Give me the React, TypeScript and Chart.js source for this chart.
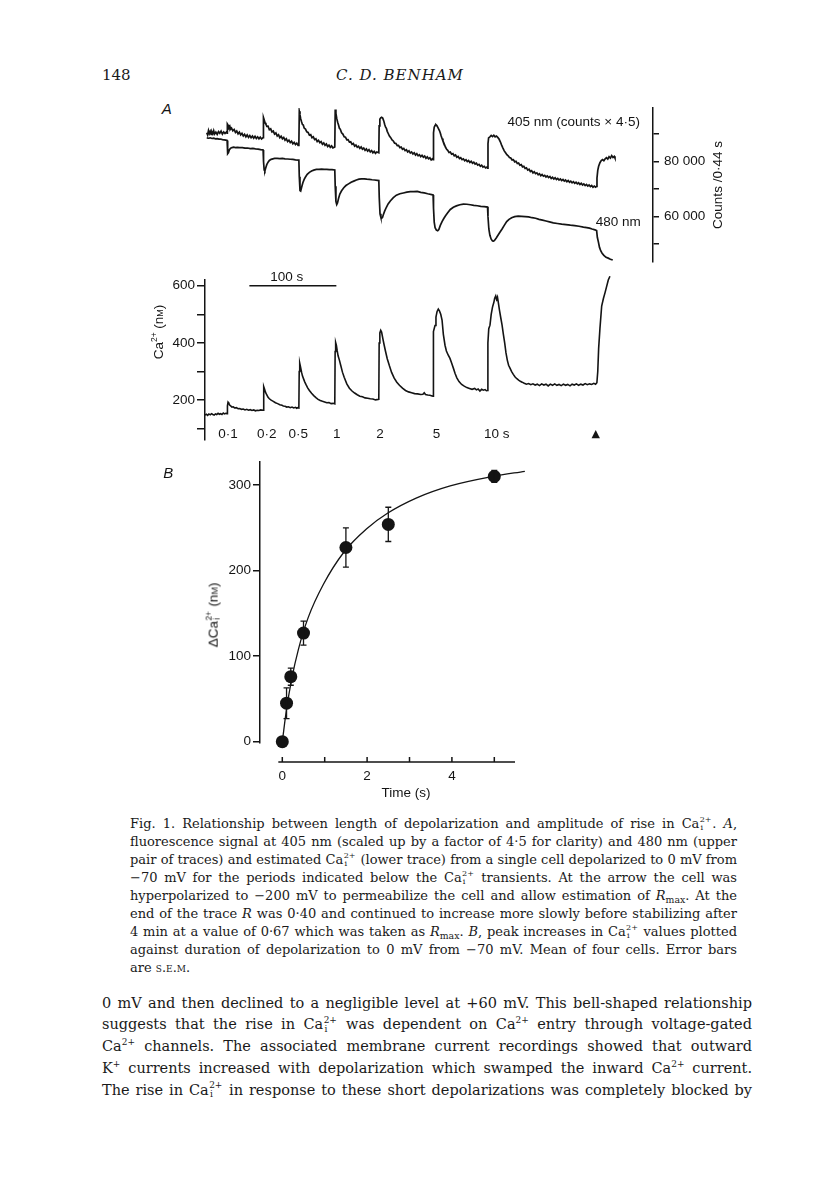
import React, { useEffect, useRef } from "react";
import { Chart, registerables } from "chart.js";
Chart.register(...registerables);

const SANS = '"Liberation Sans", Arial, Helvetica, sans-serif';
const SERIF = '"DejaVu Serif", "Liberation Serif", serif';
const INK = "#141414";

// ---------------- Panel A data (time in s) ----------------
const TIME_MIN = 0;
const TIME_MAX = 515;

// 405 nm fluorescence (counts x 4.5)
const t405 = [
  2, 3, 4, 5, 6, 7, 8, 9, 10, 11, 12.5, 14, 15.5, 17, 18.5, 20, 21.5, 23, 24.5, 25.4,
  25.7, 26.5, 27.5, 28.5, 29.5, 30.5, 32, 33.5, 35, 36.5, 38, 39.5, 41, 42.5, 44, 45.5, 47, 48.5, 50, 51.5, 53, 54.5, 56, 57.5, 59, 60.5, 62, 63.5, 65, 66.7,
  67.2, 68, 69, 70, 71, 72.5, 74, 75.5, 77, 78.5, 80, 81.5, 83, 84.5, 86, 87.5, 89, 90.5, 92, 93.5, 95, 96.5, 98, 99.5, 101, 102.5, 104, 105.5, 107, 107.9,
  108.4, 109.2, 110, 111, 112, 113, 114, 115.5, 117, 118.5, 120, 121.5, 123, 124.5, 126, 127.5, 129, 130.5, 132, 133.5, 135, 136.5, 138, 139.5, 141, 142.5, 144, 145.5, 147, 149.2,
  149.7, 150.5, 151.5, 152.5, 153.5, 154.5, 155.5, 157, 158.5, 160, 161.5, 163, 164.5, 166, 167.5, 169, 170.5, 172, 173.5, 175, 176.5, 178, 179.5, 181, 182.5, 184, 185.5, 187, 188.5, 190, 191.5, 193, 194.5, 196, 197.5, 199.8,
  200.2, 201, 202, 203, 204.3, 205.5, 206.5, 207.5, 208.5, 209.5, 210.5, 212, 213.5, 215, 216.5, 218, 219.5, 221, 222.5, 224, 225.5, 227, 228.5, 230, 231.5, 233, 234.5, 236, 237.5, 239, 240.5, 242, 243.5, 245, 246.5, 248, 249.5, 251, 252.5, 254, 255.5, 257, 258.5, 260, 261.5, 262.2,
  262.7, 263.5, 264.5, 265.5, 266.5, 267.5, 268.5, 269.5, 270.5, 271.5, 272.5, 273.5, 274.5, 275.5, 276.5, 277.8, 279, 280.5, 282, 283.5, 285, 286.5, 288, 289.5, 291, 292.5, 294, 295.5, 297, 298.5, 300, 301.5, 303, 304.5, 306, 307.5, 309, 310.5, 312, 313.5, 315, 316.5, 318, 319.5, 321, 322.5, 324, 324.8,
  325.3, 326, 327.5, 329, 330.5, 332, 333.5, 335, 336.5, 338, 339.5, 341, 342.5, 344, 345.5, 347, 348.5, 350, 351.5, 353, 354.5, 356, 357.5, 359, 360.5, 362, 363.5, 365, 366.5, 368, 369.5, 371, 372.5, 374, 375.5, 377, 378.5, 380, 381.5, 383, 384.5, 386, 387.5, 389, 390.5, 392, 393.5, 395, 396.5, 398, 399.5, 401, 402.5, 404, 405.5, 407, 408.5, 410, 411.5, 413, 414.5, 416, 417.5, 419, 420.5, 422, 423.5, 425, 426.5, 428, 429.5, 431, 432.5, 434, 435.5, 437, 438.5, 440, 441.5, 443, 444.5, 446, 447.5, 449, 450.2,
  450.6, 451.5, 452.5, 454, 455.5, 457, 458.5, 460, 461.5, 463, 464.5, 466, 467.5, 469, 470.5, 471.3,
];
const v405 = [
  90500, 89700, 91300, 90200, 91000, 89900, 90800, 90100, 91200, 90000, 90700, 89900, 90900, 90300, 91100, 90000, 90800, 90200, 90700, 90300,
  93700, 93300, 92400, 92900, 91800, 92200, 91200, 91700, 90600, 91100, 90100, 90700, 89700, 90300, 89300, 89900, 89000, 89700, 88800, 89500, 88700, 89300, 88500, 89200, 88400, 89000, 88300, 88900, 88200, 88700,
  96000, 95200, 94100, 93600, 92800, 92900, 91600, 91900, 90800, 91100, 90000, 90400, 89300, 89800, 88700, 89200, 88300, 88800, 87800, 88300, 87300, 87800, 86900, 87400, 86500, 87000, 86200, 86700, 85900, 86300,
  98300, 97000, 95600, 94500, 93500, 93300, 92200, 91800, 90800, 90600, 89600, 89800, 88700, 89000, 88000, 88300, 87300, 87700, 86900, 87300, 86300, 86800, 85900, 86400, 85500, 86000, 85200, 85700, 85000, 85300,
  98900, 97500, 95600, 94300, 93300, 92100, 91800, 90500, 90000, 89000, 88900, 87900, 88000, 87100, 87200, 86300, 86600, 85600, 86000, 85200, 85600, 84800, 85300, 84500, 84900, 84100, 84600, 83800, 84300, 83500, 84000, 83200, 83700, 83000, 83500, 83200,
  93000, 95400, 95900, 96100, 95800, 94800, 93600, 92600, 92100, 91000, 90300, 89300, 88700, 87900, 87500, 86700, 86600, 85800, 85900, 85100, 85300, 84500, 84800, 84000, 84300, 83500, 83900, 83100, 83500, 82800, 83200, 82400, 82900, 82100, 82500, 81800, 82300, 81600, 82000, 81200, 81700, 81000, 81400, 80600, 81000, 80700,
  90500, 92500, 93200, 93400, 93100, 92500, 91900, 91300, 90400, 89300, 88400, 87500, 86800, 86000, 85200, 84500, 84100, 83300, 83500, 82700, 82900, 82100, 82400, 81600, 81900, 81100, 81400, 80700, 81000, 80300, 80700, 80000, 80400, 79700, 80100, 79400, 79800, 79100, 79400, 78700, 79000, 78300, 78700, 78000, 78300, 77700, 78000, 77600,
  86500, 88600, 89000, 89500, 89100, 89600, 89000, 89300, 88800, 88200, 87200, 86000, 84900, 83900, 83200, 82500, 82100, 81500, 81300, 80600, 80700, 79900, 80100, 79300, 79500, 78700, 78900, 78100, 78300, 77500, 77700, 76900, 77200, 76400, 76700, 75900, 76300, 75600, 75900, 75200, 75600, 74900, 75300, 74700, 75000, 74400, 74800, 74200, 74600, 73900, 74300, 73700, 74100, 73500, 73900, 73300, 73700, 73100, 73500, 72900, 73300, 72700, 73100, 72500, 72900, 72300, 72700, 72100, 72500, 71900, 72300, 71700, 72100, 71500, 71900, 71300, 71700, 71100, 71500, 70900, 71300, 70700, 71100, 70700, 71000,
  74000, 76800, 78300, 79600, 80400, 80700, 80300, 81000, 81400, 80900, 81800, 81300, 82200, 81500, 81900, 81300,
];

// 480 nm fluorescence (counts)
const t480 = [
  2, 4, 6, 8, 10, 12, 14, 16, 18, 20, 22, 24, 25.4,
  25.8, 26.3, 27, 28, 29.5, 31, 33, 35, 37, 40, 43, 46, 49, 52, 55, 58, 61, 64, 66.8,
  67.3, 68, 68.8, 69.7, 71, 72.5, 74, 76, 78, 80, 83, 86, 89, 92, 95, 98, 101, 104, 107.9,
  108.4, 109.2, 110, 111, 112.5, 114, 115.5, 117.5, 120, 122.5, 125, 128, 131, 134, 137, 140, 143, 146, 149.2,
  149.7, 150.5, 151.4, 152.3, 153.5, 155, 157, 159.5, 162, 165, 168, 171, 174, 177, 180, 183, 186, 189, 192, 195, 199.8,
  200.3, 201.2, 202.2, 203.1, 204, 205, 206.5, 208.5, 210.5, 213, 216.5, 220, 224, 228, 232, 236, 240, 244, 248, 252, 256, 260.6, 262.2,
  262.7, 263.5, 264.5, 266, 267.5, 268.8, 270.5, 272.5, 274.5, 276.5, 279, 282, 285.5, 289, 293, 297, 301, 305, 309, 313, 317, 321, 324.8,
  325.3, 326.3, 327.5, 329, 330.5, 331.8, 333, 335, 337, 339, 341.5, 344, 346.8, 349.5, 352.5, 356, 360, 364, 368, 372, 376, 380, 384, 388, 392, 396, 400.4, 405, 410, 415, 420, 425, 430, 435, 438.8, 442, 445, 448.3, 450.2,
  451, 452.2, 453.5, 455, 456.5, 458.5, 461, 463.5, 466, 468.7,
];
const v480 = [
  88600, 88500, 88650, 88400, 88500, 88300, 88350, 88150, 88200, 88000, 87900, 87800, 87700,
  84500, 82900, 83300, 84300, 84900, 85100, 85250, 85100, 85200, 85050, 85100, 84900, 84950, 84750, 84800, 84600, 84550, 84350, 84250,
  80000, 77000, 76600, 77600, 78900, 79800, 80400, 80800, 81000, 81150, 81200, 81100, 81150, 81000, 80950, 80850, 80800, 80650, 80550,
  74500, 69500, 69300, 70600, 72300, 73500, 74400, 75400, 76100, 76600, 76900, 77150, 77200, 77250, 77150, 77200, 77050, 77100, 76950,
  71000, 65500, 64400, 65000, 66600, 68200, 69400, 70500, 71300, 71900, 72500, 72900, 73300, 73600, 73700, 73750, 73600, 73550, 73400, 73300, 73100,
  67000, 61000, 59700, 59450, 59700, 60700, 62000, 63400, 64600, 65700, 66900, 67800, 68300, 68600, 68900, 69100, 69100, 69150, 68800, 68600, 68300, 68000, 67900,
  63000, 58000, 56000, 55100, 54850, 55300, 56800, 58200, 59300, 60300, 61400, 62600, 63400, 63900, 64300, 64550, 64500, 64300, 64100, 63950, 63750, 63600, 63450,
  60000, 55500, 53200, 51800, 51150, 51100, 51400, 52300, 53300, 54300, 55500, 56800, 58200, 59000, 59600, 60000, 60150, 60100, 60000, 59900, 59600, 59400, 59000, 58700, 58400, 58100, 57750, 57500, 57250, 57100, 56900, 56750, 56500, 56200, 56000, 55800, 55500, 55200, 54900,
  52500, 50800, 48800, 47500, 46700, 45900, 45200, 44900, 44500, 44200,
];

// estimated Ca2+ (nM)
const tCa = [
  0, 1.5, 3, 4.5, 6, 7.5, 9, 10.5, 12, 13.5, 15, 16.5, 18, 19.5, 21, 22.5, 24, 25.4,
  25.8, 26.5, 27.3, 28.3, 29.5, 31, 32.5, 34, 36, 38, 40, 42, 44, 46, 48, 50, 52, 54, 56, 58, 60, 62, 64, 66.8,
  67.2, 67.8, 68.5, 69.5, 70.9, 72.5, 74, 76, 78.5, 81, 83.5, 86, 88.5, 90, 92, 94, 96, 98, 100, 102, 104, 105.4, 106.8, 107.9,
  108.3, 108.9, 109.8, 111, 112, 113, 114.5, 116, 118, 120, 122.5, 125, 127.5, 130, 132.5, 135, 137.5, 140, 142.5, 145, 147.5, 149.2,
  149.6, 150.2, 151, 152, 153, 154.5, 156, 158, 160, 163, 166, 169, 172, 175, 178, 181, 184, 187, 190, 193, 196, 199.8,
  200.2, 201, 202, 203, 204.5, 206, 207.5, 209.5, 212, 214.5, 217.5, 220.5, 223.5, 227, 230.5, 234, 237.5, 241, 244.5, 248, 250.5, 252, 253.5, 256, 258.5, 261, 262.2,
  262.6, 264.4, 265.5, 266.8, 268.2, 269.5, 271, 272.5, 274, 275.9, 277.5, 279.5, 281.6, 283.5, 285.5, 287.5, 289.5, 292, 295, 298, 301, 304, 307, 310, 312, 314, 316, 318, 320, 322, 323.5, 324.8,
  325.2, 326.2, 327.6, 329, 330.5, 332, 333, 334.2, 335.2, 336.2, 337.2, 338.5, 340, 341.5, 343, 344.5, 346, 347.5, 349, 350.6, 352.5, 354.4, 356.5, 358.5, 360.5, 362.5, 364.5, 367, 369.5, 372, 374.5, 377, 379.5, 382, 384.5, 387, 389.5, 392, 394.5, 397, 399.5, 402, 404.5, 407, 409.5, 412, 414.5, 417, 419.6, 422, 424.5, 427, 429.5, 432, 434.5, 437, 439.5, 442, 444.5, 447, 449, 450.5,
  451.5, 452.5, 454, 456, 458, 459.8, 461.5, 463.6, 465.5,
];
const vCa = [
  148, 151, 147, 152, 149, 153, 150, 148, 152, 150, 154, 151, 153, 150, 155, 152, 154, 153,
  180, 193, 190, 183, 180, 176, 177, 173, 174, 170, 171, 168, 169, 166, 168, 165, 167, 164, 166, 163, 165, 164, 166, 165,
  225, 247, 238, 228, 219, 210, 205, 200, 196, 191, 188, 184, 182, 180, 179, 176, 177, 174, 176, 173, 175, 172, 174, 173,
  300, 329, 316, 298, 285, 277, 265, 255, 243, 234, 224, 216, 209, 203, 199, 196, 194, 191, 192, 188, 189, 187,
  370, 401, 392, 372, 355, 340, 322, 298, 280, 257, 242, 232, 225, 219, 214, 212, 208, 207, 205, 204, 201, 203,
  400, 435, 444, 438, 414, 392, 371, 345, 320, 297, 277, 263, 252, 242, 234, 229, 226, 223, 222, 220, 221, 226, 220, 218, 217, 215, 214,
  440, 461, 490, 510, 518, 512, 500, 480, 430, 392, 372, 358, 346, 330, 312, 293, 278, 265, 255, 249, 244, 241, 238, 241, 236, 239, 232, 238, 235, 237, 233, 234,
  400, 450, 462, 500, 525, 541, 556, 564, 552, 560, 541, 515, 488, 462, 430, 400, 365, 340, 322, 312, 300, 290, 281, 275, 270, 266, 263, 259, 256, 258, 254, 257, 253, 256, 251, 257, 253, 256, 250, 256, 252, 257, 252, 255, 251, 256, 252, 255, 250, 256, 253, 257, 252, 256, 253, 258, 254, 257, 255, 259, 256, 261,
  300, 380, 450, 529, 555, 575, 595, 620, 633,
];

const COUNT_MIN = 43534;
const COUNT_MAX = 99451;
const countTicks = [50000, 60000, 70000, 80000, 90000];
const countTickLabels = ["", "60 000", "", "80 000", ""];

const CA_MIN = 61.3;
const CA_MAX = 619.5;
const caTicks = [100, 200, 300, 400, 500, 600];
const caTickLabels = ["", "200", "", "400", "", "600"];

const scaleBarT = [51, 151];
const scaleBarY = 600;
const scaleBarLabel = "100 s";
const scaleBarLabelT = 94;

const pulseLabels = ["0·1", "0·2", "0·5", "1", "2", "5", "10 s", "▲"];
const pulseLabelT = [26.4, 70.9, 107.3, 151.4, 201.2, 266.1, 335.3, 449.3];

// ---------------- Panel B data ----------------
const durations = [0, 0.1, 0.2, 0.5, 1.5, 2.5, 5];
const deltaCa = [0, 45, 76, 127, 227, 254, 310];
const deltaCaSem = [0, 18, 10, 14, 23, 20, 7];
const fitT = [0, 0.1, 0.22, 0.38, 0.61, 0.97, 1.46, 1.99, 2.48, 3.17, 3.96, 4.96, 5.72];
const fitV = [0, 38, 73, 108, 145, 184, 222, 249, 267, 285, 299, 310, 316];
const B_X_MIN = -0.526;
const B_X_MAX = 5.488;
const bAxisRange = [-0.094, 5.488];
const bXMinorTicks = [0, 1, 2, 3, 4, 5];
const bXTicks = [0, 2, 4];
const B_Y_MIN = -1.5;
const B_Y_MAX = 326.9;
const bYTicks = [0, 100, 200, 300];

const pts = (ts: number[], vs: number[]) => ts.map((t, i) => ({ x: t, y: vs[i] }));
const tickFont = { family: SANS, size: 13.5 };

const pulseLabelPlugin = {
  id: "pulseLabels",
  afterDraw(chart: any) {
    const { ctx, chartArea, scales } = chart;
    const x = scales.x, y = scales.y;
    ctx.save();
    ctx.fillStyle = INK;
    ctx.textAlign = "center";
    ctx.textBaseline = "middle";
    pulseLabels.forEach((lab, i) => {
      ctx.font = lab === "▲" ? `11px "DejaVu Sans", ${SANS}` : `13.5px ${SANS}`;
      ctx.fillText(lab, x.getPixelForValue(pulseLabelT[i]), chartArea.bottom - 6);
    });
    ctx.font = `13.5px ${SANS}`;
    ctx.fillText(scaleBarLabel, x.getPixelForValue(scaleBarLabelT), y.getPixelForValue(scaleBarY) - 8);
    ctx.restore();
  },
};

const errorBarPlugin = {
  id: "errorBars",
  afterDatasetsDraw(chart: any) {
    const { ctx, scales } = chart;
    const x = scales.x, y = scales.y;
    ctx.save();
    ctx.strokeStyle = INK;
    ctx.lineWidth = 1.3;
    ctx.beginPath();
    durations.forEach((t, i) => {
      const s = deltaCaSem[i];
      if (!s) return;
      const px = x.getPixelForValue(t);
      const y1 = y.getPixelForValue(deltaCa[i] - s);
      const y2 = y.getPixelForValue(deltaCa[i] + s);
      ctx.moveTo(px, y1); ctx.lineTo(px, y2);
      ctx.moveTo(px - 3, y1); ctx.lineTo(px + 3, y1);
      ctx.moveTo(px - 3, y2); ctx.lineTo(px + 3, y2);
    });
    ctx.stroke();
    ctx.restore();
  },
};

const bAxisPlugin = {
  id: "bAxis",
  afterDraw(chart: any) {
    const { ctx, chartArea, scales } = chart;
    const x = scales.x;
    const yLine = chartArea.bottom + 19;
    ctx.save();
    ctx.strokeStyle = INK;
    ctx.lineWidth = 1.5;
    ctx.beginPath();
    ctx.moveTo(x.getPixelForValue(bAxisRange[0]), yLine);
    ctx.lineTo(x.getPixelForValue(bAxisRange[1]), yLine);
    bXMinorTicks.forEach((v) => {
      const px = x.getPixelForValue(v);
      ctx.moveTo(px, yLine);
      ctx.lineTo(px, yLine - 5);
    });
    ctx.stroke();
    ctx.restore();
  },
};

const baseOpts = {
  responsive: false,
  animation: false,
  devicePixelRatio: 1,
  plugins: { legend: { display: false }, tooltip: { enabled: false }, title: { display: false } },
};

const upperConfig = () => ({
  type: "line",
  data: {
    datasets: [
      { data: pts(t405, v405), borderColor: INK, borderWidth: 1.7, pointRadius: 0, tension: 0 },
      { data: pts(t480, v480), borderColor: INK, borderWidth: 1.7, pointRadius: 0, tension: 0 },
    ],
  },
  options: {
    ...baseOpts,
    layout: { padding: { top: 10, bottom: 7, left: 0, right: 0 } },
    scales: {
      x: { type: "linear", display: false, min: TIME_MIN, max: TIME_MAX },
      y: {
        type: "linear", position: "right", min: COUNT_MIN, max: COUNT_MAX,
        afterFit: (s: any) => { s.width = 92; },
        afterBuildTicks: (s: any) => { s.ticks = countTicks.map((v) => ({ value: v })); },
        border: { display: true, color: INK, width: 1.5 },
        grid: { drawOnChartArea: false, tickLength: 6, color: INK, lineWidth: 1.5 },
        ticks: { callback: (v: number) => countTickLabels[countTicks.indexOf(v)] ?? "", padding: 5, color: INK, font: tickFont },
      },
    },
  },
});

const lowerConfig = () => ({
  type: "line",
  data: {
    datasets: [
      { data: pts(tCa, vCa), borderColor: INK, borderWidth: 1.6, pointRadius: 0, tension: 0, clip: false },
      { data: pts(scaleBarT, [scaleBarY, scaleBarY]), borderColor: INK, borderWidth: 1.6, pointRadius: 0, clip: false },
    ],
  },
  options: {
    ...baseOpts,
    layout: { padding: { top: 7, bottom: 10, left: 0, right: 7 } },
    scales: {
      x: { type: "linear", display: false, min: TIME_MIN, max: TIME_MAX },
      y: {
        type: "linear", position: "left", min: CA_MIN, max: CA_MAX,
        afterFit: (s: any) => { s.width = 65; },
        afterBuildTicks: (s: any) => { s.ticks = caTicks.map((v) => ({ value: v })); },
        border: { display: true, color: INK, width: 1.5 },
        grid: { drawOnChartArea: false, tickLength: 8, color: INK, lineWidth: 1.5 },
        ticks: { callback: (v: number) => caTickLabels[caTicks.indexOf(v)] ?? "", padding: 2, color: INK, font: tickFont },
      },
    },
  },
  plugins: [pulseLabelPlugin],
});

const panelBConfig = () => ({
  type: "line",
  data: {
    datasets: [
      { data: pts(durations, deltaCa), showLine: false, pointRadius: 6.5, pointBackgroundColor: INK, pointBorderWidth: 0, pointBorderColor: INK, clip: false },
      { data: pts(fitT, fitV), borderColor: INK, borderWidth: 1.3, pointRadius: 0, cubicInterpolationMode: "monotone", clip: false },
    ],
  },
  options: {
    ...baseOpts,
    layout: { padding: { top: 12, bottom: 0, left: 0, right: 25 } },
    scales: {
      x: {
        type: "linear", min: B_X_MIN, max: B_X_MAX,
        afterFit: (s: any) => { s.height = 57; },
        afterBuildTicks: (s: any) => { s.ticks = bXTicks.map((v) => ({ value: v })); },
        border: { display: false },
        grid: { display: false, drawTicks: false },
        ticks: { padding: 25, color: INK, font: tickFont, maxRotation: 0 },
      },
      y: {
        type: "linear", position: "left", min: B_Y_MIN, max: B_Y_MAX,
        afterFit: (s: any) => { s.width = 100; },
        afterBuildTicks: (s: any) => { s.ticks = bYTicks.map((v) => ({ value: v })); },
        border: { display: true, color: INK, width: 1.5 },
        grid: { drawOnChartArea: false, tickLength: 7, color: INK, lineWidth: 1.5 },
        ticks: { padding: 2, color: INK, font: tickFont },
      },
    },
  },
  plugins: [errorBarPlugin, bAxisPlugin],
});

function ChartBox({ left, top, width, height, make }: any) {
  const ref = useRef<HTMLCanvasElement>(null);
  useEffect(() => {
    const chart = new Chart(ref.current as HTMLCanvasElement, make());
    return () => chart.destroy();
  }, []);
  return (
    <div style={{ position: "absolute", left, top, width, height }}>
      <canvas ref={ref} width={width} height={height} style={{ width, height, display: "block" }} />
    </div>
  );
}

// ---------------- text helpers ----------------
const Sup = ({ children }: any) => <span style={{ fontSize: "0.62em", verticalAlign: "0.7em", lineHeight: 0 }}>{children}</span>;
const Stack = () => (
  <span style={{ display: "inline-flex", flexDirection: "column", fontSize: "0.62em", lineHeight: 1, verticalAlign: "0.72em", marginLeft: "0.05em", marginRight: "0.08em" }}>
    <span>2+</span>
    <span style={{ paddingLeft: "0.1em" }}>i</span>
  </span>
);
const CaI = () => <span style={{ whiteSpace: "nowrap" }}>Ca<Stack /></span>;
const Rmax = () => <span style={{ whiteSpace: "nowrap" }}><i>R</i><span style={{ fontSize: "0.72em", verticalAlign: "-0.3em" }}>max</span></span>;
const SC = ({ children }: any) => <span style={{ fontVariant: "small-caps" }}>{children}</span>;

function TextLine({ y, left, width, size, last, children }: any) {
  const lh = size * 1.3;
  return (
    <div style={{ position: "absolute", left, top: y - lh / 2, width, fontFamily: SERIF, fontSize: size, lineHeight: `${lh}px`, textAlign: last ? "left" : "justify", textAlignLast: last ? "left" : "justify", color: "#1a1a1a" } as any}>
      {children}
    </div>
  );
}

function Label({ x, y, align = "center", size = 13.5, italic = false, children, rotate = false }: any) {
  const tx = align === "center" ? "-50%" : align === "right" ? "-100%" : "0";
  return (
    <div style={{ position: "absolute", left: x, top: y, fontFamily: SANS, fontSize: size, lineHeight: 1, whiteSpace: "nowrap", color: INK, fontStyle: italic ? "italic" : "normal", transform: rotate ? "translate(-50%, -50%) rotate(-90deg)" : `translate(${tx}, -50%)` }}>
      {children}
    </div>
  );
}

const CAP_L = 130, CAP_W = 607, CAP_SIZE = 13, CAP_Y0 = 824, CAP_DY = 18;
const BODY_L = 102, BODY_W = 650, BODY_SIZE = 14.5, BODY_Y0 = 1003, BODY_DY = 21.75;

export default function App() {
  return (
    <div style={{ position: "absolute", left: 0, top: 0, width: 816, height: 1203, background: "#fff", overflow: "hidden" }}>
      {/* running head */}
      <div style={{ position: "absolute", left: 102, top: 66, fontFamily: SERIF, fontSize: 15, color: "#1a1a1a" }}>148</div>
      <div style={{ position: "absolute", left: 400, top: 66, transform: "translateX(-50%)", fontFamily: SERIF, fontSize: 15, fontStyle: "italic", letterSpacing: 1, color: "#1a1a1a" }}>C. D. BENHAM</div>

      <ChartBox left={205} top={95} width={540} height={180} make={upperConfig} />
      <ChartBox left={140} top={270} width={520} height={180} make={lowerConfig} />
      <ChartBox left={160} top={450} width={380} height={350} make={panelBConfig} />

      <Label x={166.7} y={108} italic size={15}>A</Label>
      <Label x={640} y={121.7} align="right">405 nm (counts × 4·5)</Label>
      <Label x={640.7} y={221.7} align="right">480 nm</Label>
      <Label x={718} y={185} rotate>Counts /0·44 s</Label>
      <Label x={159} y={332} rotate>Ca<Sup>2+</Sup> (n<SC>m</SC>)</Label>

      <Label x={168.3} y={471.7} italic size={15}>B</Label>
      <Label x={213} y={615} rotate>ΔCa<Stack /> (n<SC>m</SC>)</Label>
      <Label x={406} y={793}>Time (s)</Label>

      {/* caption */}
      <TextLine y={CAP_Y0} left={CAP_L} width={CAP_W} size={CAP_SIZE}>Fig. 1. Relationship between length of depolarization and amplitude of rise in <CaI />. <i>A</i>,</TextLine>
      <TextLine y={CAP_Y0 + CAP_DY} left={CAP_L} width={CAP_W} size={CAP_SIZE}>fluorescence signal at 405 nm (scaled up by a factor of 4·5 for clarity) and 480 nm (upper</TextLine>
      <TextLine y={CAP_Y0 + CAP_DY * 2} left={CAP_L} width={CAP_W} size={CAP_SIZE}>pair of traces) and estimated <CaI /> (lower trace) from a single cell depolarized to 0 mV from</TextLine>
      <TextLine y={CAP_Y0 + CAP_DY * 3} left={CAP_L} width={CAP_W} size={CAP_SIZE}>−70 mV for the periods indicated below the <CaI /> transients. At the arrow the cell was</TextLine>
      <TextLine y={CAP_Y0 + CAP_DY * 4} left={CAP_L} width={CAP_W} size={CAP_SIZE}>hyperpolarized to −200 mV to permeabilize the cell and allow estimation of <Rmax />. At the</TextLine>
      <TextLine y={CAP_Y0 + CAP_DY * 5} left={CAP_L} width={CAP_W} size={CAP_SIZE}>end of the trace <i>R</i> was 0·40 and continued to increase more slowly before stabilizing after</TextLine>
      <TextLine y={CAP_Y0 + CAP_DY * 6} left={CAP_L} width={CAP_W} size={CAP_SIZE}>4 min at a value of 0·67 which was taken as <Rmax />. <i>B</i>, peak increases in <CaI /> values plotted</TextLine>
      <TextLine y={CAP_Y0 + CAP_DY * 7} left={CAP_L} width={CAP_W} size={CAP_SIZE}>against duration of depolarization to 0 mV from −70 mV. Mean of four cells. Error bars</TextLine>
      <TextLine y={CAP_Y0 + CAP_DY * 8} left={CAP_L} width={CAP_W} size={CAP_SIZE} last>are <SC>s.e.m.</SC></TextLine>

      {/* body text */}
      <TextLine y={BODY_Y0} left={BODY_L} width={BODY_W} size={BODY_SIZE}>0 mV and then declined to a negligible level at +60 mV. This bell-shaped relationship</TextLine>
      <TextLine y={BODY_Y0 + BODY_DY} left={BODY_L} width={BODY_W} size={BODY_SIZE}>suggests that the rise in <CaI /> was dependent on Ca<Sup>2+</Sup> entry through voltage-gated</TextLine>
      <TextLine y={BODY_Y0 + BODY_DY * 2} left={BODY_L} width={BODY_W} size={BODY_SIZE}>Ca<Sup>2+</Sup> channels. The associated membrane current recordings showed that outward</TextLine>
      <TextLine y={BODY_Y0 + BODY_DY * 3} left={BODY_L} width={BODY_W} size={BODY_SIZE}>K<Sup>+</Sup> currents increased with depolarization which swamped the inward Ca<Sup>2+</Sup> current.</TextLine>
      <TextLine y={BODY_Y0 + BODY_DY * 4} left={BODY_L} width={BODY_W} size={BODY_SIZE}>The rise in <CaI /> in response to these short depolarizations was completely blocked by</TextLine>
    </div>
  );
}
